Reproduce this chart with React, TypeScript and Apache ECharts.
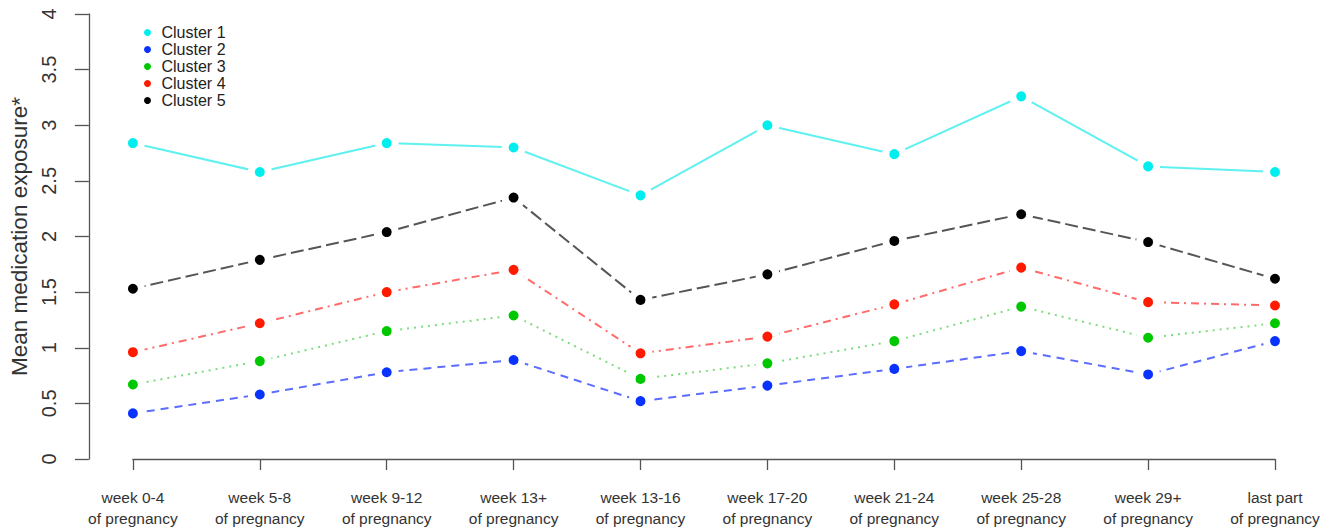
import React, { useEffect, useRef } from "react";
import * as echarts from "echarts";

const categories = [
  "week 0-4\nof pregnancy",
  "week 5-8\nof pregnancy",
  "week 9-12\nof pregnancy",
  "week 13+\nof pregnancy",
  "week 13-16\nof pregnancy",
  "week 17-20\nof pregnancy",
  "week 21-24\nof pregnancy",
  "week 25-28\nof pregnancy",
  "week 29+\nof pregnancy",
  "last part\nof pregnancy",
];

const cluster1 = [2.84, 2.58, 2.84, 2.8, 2.37, 3.0, 2.74, 3.26, 2.63, 2.58];
const cluster2 = [0.41, 0.58, 0.78, 0.89, 0.52, 0.66, 0.81, 0.97, 0.76, 1.06];
const cluster3 = [0.67, 0.88, 1.15, 1.29, 0.72, 0.86, 1.06, 1.37, 1.09, 1.22];
const cluster4 = [0.96, 1.22, 1.5, 1.7, 0.95, 1.1, 1.39, 1.72, 1.41, 1.38];
const cluster5 = [1.53, 1.79, 2.04, 2.35, 1.43, 1.66, 1.96, 2.2, 1.95, 1.62];

const seriesNames = ["Cluster 1", "Cluster 2", "Cluster 3", "Cluster 4", "Cluster 5"];
const seriesData = [cluster1, cluster2, cluster3, cluster4, cluster5];
const pointColors = ["#00eeee", "#0a32ff", "#00c800", "#ff1a00", "#000000"];
const lineColors = ["#5ff0f0", "#5b6cff", "#7ddc7d", "#ff6b6b", "#555555"];
const lineTypes: any[] = ["solid", [8, 6], [2, 5], [2, 5, 8, 5], [13, 5]];

export default function App() {
  const ref = useRef<HTMLDivElement>(null);
  useEffect(() => {
    document.body.style.margin = "0";
    const chart = echarts.init(ref.current!, null, { renderer: "svg" });
    const font = "'Liberation Sans', Arial, Helvetica, sans-serif";
    chart.setOption({
      animation: false,
      textStyle: { fontFamily: font },
      legend: {
        orient: "vertical",
        left: 139,
        top: 19,
        icon: "circle",
        itemWidth: 18,
        itemHeight: 7,
        itemGap: 0,
        itemStyle: { borderWidth: 0 },
        textStyle: { fontSize: 16, lineHeight: 17, color: "#222", fontFamily: font },
        data: seriesNames,
      },
      grid: { left: 131, right: 56, top: 14, bottom: 70, containLabel: false },
      xAxis: {
        type: "category",
        data: categories,
        boundaryGap: false,
        offset: 18,
        axisLine: { show: true, lineStyle: { color: "#555", width: 1.3 } },
        axisTick: { show: true, length: 11, alignWithLabel: true, lineStyle: { color: "#555", width: 1.3 } },
        axisLabel: {
          fontSize: 15.5,
          lineHeight: 21,
          color: "#333",
          margin: 10,
          interval: 0,
          fontFamily: font,
        },
        splitLine: { show: false },
      },
      yAxis: {
        type: "value",
        min: 0,
        max: 4,
        interval: 0.5,
        offset: 44,
        name: "Mean medication exposure*",
        nameLocation: "middle",
        nameGap: 56,
        nameTextStyle: { fontSize: 22.5, color: "#333", fontFamily: font },
        axisLine: { show: true, lineStyle: { color: "#555", width: 1.3 } },
        axisTick: { show: true, length: 14, lineStyle: { color: "#555", width: 1.3 } },
        axisLabel: { rotate: 90, fontSize: 20, color: "#333", margin: 30, fontFamily: font },
        splitLine: { show: false },
      },
      series: seriesNames.map((name, i) => ({
        name,
        type: "line",
        data: seriesData[i],
        symbol: "circle",
        symbolSize: 17,
        showAllSymbol: true,
        itemStyle: { color: pointColors[i], borderColor: "#ffffff", borderWidth: 7 },
        lineStyle: { color: lineColors[i], width: 2, type: lineTypes[i] },
        emphasis: { disabled: true },
      })),
    });
    return () => chart.dispose();
  }, []);
  return <div ref={ref} style={{ width: 1331, height: 529 }} />;
}
